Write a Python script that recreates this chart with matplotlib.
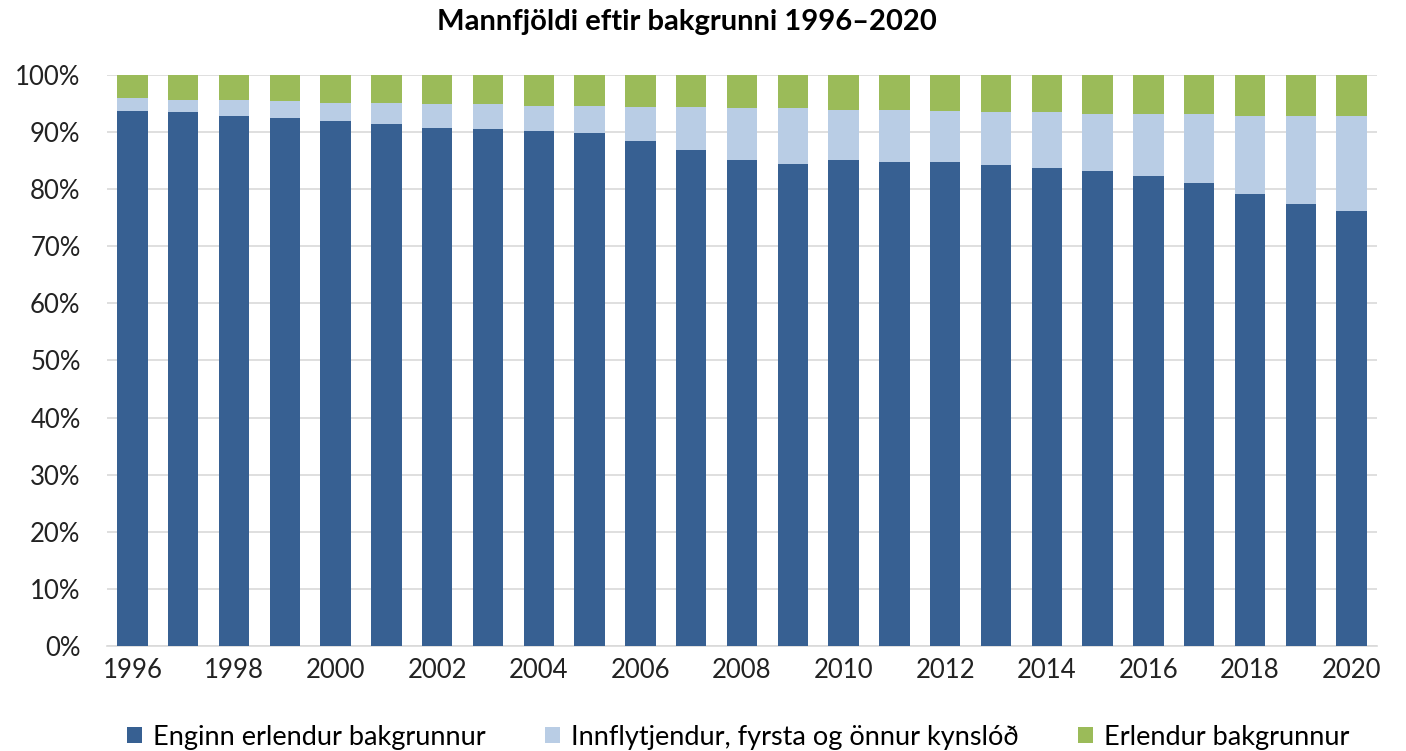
import matplotlib
matplotlib.use('Agg')
import matplotlib.pyplot as plt
import numpy as np

plt.rcParams['font.family'] = ['Lato', 'DejaVu Sans']

years = list(range(1996, 2021))
# cumulative tops (% of population)
enginn = [93.7, 93.5, 92.9, 92.5, 91.9, 91.5, 90.8, 90.5, 90.2, 89.8,
          88.5, 86.8, 85.1, 84.5, 85.1, 84.8, 84.8, 84.3, 83.8, 83.1,
          82.3, 81.1, 79.1, 77.4, 76.1]
innfl_top = [95.9, 95.6, 95.6, 95.4, 95.1, 95.1, 94.9, 94.9, 94.6, 94.6,
             94.4, 94.4, 94.2, 94.2, 93.9, 93.9, 93.7, 93.5, 93.5, 93.2,
             93.2, 93.2, 92.9, 92.9, 92.9]
innfl = [t - e for t, e in zip(innfl_top, enginn)]
erlendur = [100 - t for t in innfl_top]

labels = ['Enginn erlendur bakgrunnur',
          'Innflytjendur, fyrsta og önnur kynslóð',
          'Erlendur bakgrunnur']
colors = ['#376092', '#B9CDE5', '#9BBB59']

fig = plt.figure(figsize=(14.06, 7.51), dpi=100)
ax = fig.add_axes([107/1406, 1 - 646/751, (1377-107)/1406, (646-75)/751])

x = np.arange(len(years))
w = 0.6
ax.bar(x, enginn, w, color=colors[0], label=labels[0], zorder=3)
ax.bar(x, innfl, w, bottom=enginn, color=colors[1], label=labels[1], zorder=3)
ax.bar(x, erlendur, w, bottom=innfl_top, color=colors[2], label=labels[2], zorder=3)

ax.set_xlim(-0.5, len(years) - 0.5)
ax.set_ylim(0, 100)
ax.set_yticks(np.arange(0, 101, 10))
ax.set_yticklabels(['{}%'.format(v) for v in range(0, 101, 10)])
ax.set_xticks(x[::2])
ax.set_xticklabels([str(y) for y in years[::2]])
ax.tick_params(length=0, labelsize=18.5, colors='#222222')
ax.tick_params(axis='x', pad=9)
ax.tick_params(axis='y', pad=19)
ax.yaxis.grid(True, color='#D9D9D9', lw=1.2, zorder=0)
for s in ['top', 'right', 'left']:
    ax.spines[s].set_visible(False)
ax.spines['bottom'].set_color('#D9D9D9')
ax.spines['bottom'].set_linewidth(1.2)

fig.text(687/1406, 1 - 22/751, 'Mannfjöldi eftir bakgrunni 1996–2020',
         ha='center', va='center', fontsize=21, fontweight='bold')

fig.legend(loc='center', bbox_to_anchor=(738/1406, 1 - 737/751), ncol=3,
           frameon=False, fontsize=19.5, handlelength=0.55, handleheight=0.55,
           handletextpad=0.4, columnspacing=2.2)

fig.savefig('out.png', dpi=100)
